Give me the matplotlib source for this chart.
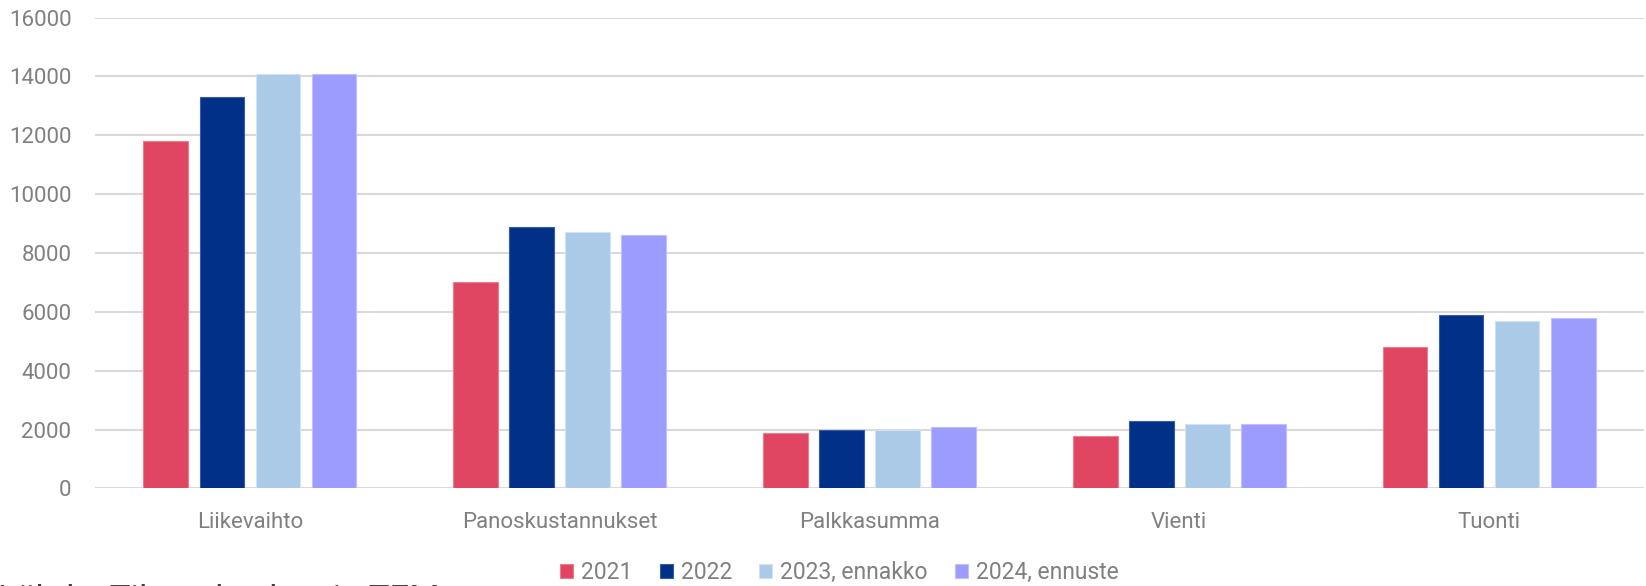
import matplotlib
matplotlib.use('Agg')
import matplotlib.pyplot as plt
import numpy as np

plt.rcParams['font.family'] = ['Roboto', 'DejaVu Sans']

categories = ['Liikevaihto', 'Panoskustannukset', 'Palkkasumma', 'Vienti', 'Tuonti']
series_names = ['2021', '2022', '2023, ennakko', '2024, ennuste']
values_2021 = [11800, 7000, 1900, 1800, 4800]
values_2022 = [13300, 8900, 2000, 2300, 5900]
values_2023 = [14100, 8700, 2000, 2200, 5700]
values_2024 = [14100, 8600, 2100, 2200, 5800]
colors = ['#E04662', '#003087', '#ABCAE8', '#9C9CFF']
edges = ['#F07C90', '#3A5AA5', '#D0E2F3', '#C0C0FF']

series = [values_2021, values_2022, values_2023, values_2024]
text_gray = '#808080'

fig = plt.figure(figsize=(16.46, 5.86), dpi=100)
ax = fig.add_axes([0.0577, 0.1664, 0.9411, 0.8036])

x = np.arange(len(categories))
pitch = 0.181
width = 0.144
for i, vals in enumerate(series):
    ax.bar(x + (i - 1.5) * pitch, vals, width, color=colors[i],
           edgecolor=edges[i], linewidth=0.8, label=series_names[i], zorder=3)

ax.set_xlim(-0.5, len(categories) - 0.5)
ax.set_ylim(0, 16000)
ax.set_yticks(np.arange(0, 16001, 2000))
ax.set_xticks(x)
ax.set_xticklabels(categories)
ax.grid(axis='y', color='#D9D9D9', linewidth=1.5, zorder=0)
for s in ax.spines.values():
    s.set_visible(False)
ax.tick_params(axis='both', length=0, colors=text_gray, labelsize=16)
ax.tick_params(axis='y', pad=17)
ax.tick_params(axis='x', pad=17)

leg = fig.legend(loc='center', bbox_to_anchor=(0.51, 0.023), ncol=4, frameon=False,
                 fontsize=16.5, handlelength=0.55, handleheight=0.55, handletextpad=0.35,
                 columnspacing=1.2, labelcolor=text_gray, borderpad=0)

# source line, mostly cut off by the bottom edge as in the original
fig.text(-0.001, 0.004, 'Lähde: Tilastokeskus ja TEM', fontsize=25, color='#404040',
         ha='left', va='top')

fig.savefig('out.png', dpi=100)
